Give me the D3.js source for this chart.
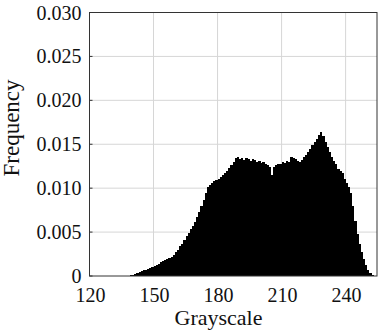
<!DOCTYPE html>
<html>
<head>
<meta charset="utf-8">
<script src="https://cdn.jsdelivr.net/npm/d3@7"></script>
<style>
    body { margin: 0; background: #fff; }
    text { font-family: "Liberation Serif", "Times New Roman", serif; fill: #111; }
</style>
</head>
<body>
<script>
// grayscale bins 120..255, one value per bin
var grayStart = 120;
var frequency = [
    0, 0, 0, 0, 0, 0, 0, 0, 0, 0,                                              // 120-129
    0, 0, 0, 0, 0, 0, 0, 0.00002, 0.00005, 0.0001,                             // 130-139
    0.00015, 0.00025, 0.00035, 0.00045, 0.00055, 0.00063, 0.0007, 0.0008, 0.00088, 0.001, // 140-149
    0.0011, 0.0013, 0.0014, 0.0016, 0.0017, 0.0018, 0.0019, 0.0021, 0.0022, 0.0024,       // 150-159
    0.0027, 0.0030, 0.0034, 0.0037, 0.0041, 0.0045, 0.0049, 0.0053, 0.0057, 0.0062,       // 160-169
    0.0067, 0.0073, 0.0080, 0.0087, 0.0094, 0.0101, 0.0104, 0.0106, 0.0108, 0.0109,       // 170-179
    0.0111, 0.0113, 0.0115, 0.0117, 0.0120, 0.0123, 0.0126, 0.0130, 0.0134, 0.0135,       // 180-189
    0.0133, 0.0134, 0.0132, 0.0134, 0.0133, 0.0131, 0.0133, 0.0132, 0.0130, 0.0131,       // 190-199
    0.0129, 0.0130, 0.0128, 0.0126, 0.0124, 0.0115, 0.0124, 0.0126, 0.0127, 0.0128,       // 200-209
    0.0130, 0.0129, 0.0131, 0.0130, 0.0135, 0.0134, 0.0133, 0.0131, 0.0130, 0.0132,       // 210-219
    0.0135, 0.0138, 0.0141, 0.0145, 0.0149, 0.0152, 0.0156, 0.0160, 0.0164, 0.0159,       // 220-229
    0.0153, 0.0147, 0.0141, 0.0136, 0.0131, 0.0127, 0.0122, 0.0120, 0.0117, 0.0111,       // 230-239
    0.0106, 0.0101, 0.0095, 0.0080, 0.0063, 0.0048, 0.0036, 0.0027, 0.0019, 0.0012,       // 240-249
    0.0007, 0.0003, 0.0001, 0, 0, 0.0045                                                  // 250-255
];
var xTicks = [120, 150, 180, 210, 240];
var yTicks = [0, 0.005, 0.010, 0.015, 0.020, 0.025, 0.030];
var yTickLabels = ["0", "0.005", "0.010", "0.015", "0.020", "0.025", "0.030"];

var width = 378, height = 336;
var plotLeft = 89.5, plotRight = 377, plotTop = 12.5, plotBottom = 276;

var svg = d3.select("body").append("svg")
    .attr("width", width)
    .attr("height", height);

// the picture is cut just after the last bin starts
var x = d3.scaleLinear().domain([120, 254.7]).range([plotLeft, plotRight]);
var y = d3.scaleLinear().domain([0, 0.030]).range([plotBottom, plotTop]);

svg.append("defs").append("clipPath")
    .attr("id", "plot-clip")
    .append("rect")
    .attr("x", plotLeft)
    .attr("y", plotTop)
    .attr("width", plotRight - plotLeft)
    .attr("height", plotBottom - plotTop);

// grid
svg.append("g")
    .selectAll("line")
    .data(yTicks.slice(1))
    .join("line")
    .attr("x1", plotLeft)
    .attr("x2", plotRight)
    .attr("y1", d => y(d))
    .attr("y2", d => y(d))
    .attr("stroke", "#d6d6d6")
    .attr("stroke-width", 1);

svg.append("g")
    .selectAll("line")
    .data(xTicks.slice(1))
    .join("line")
    .attr("x1", d => x(d))
    .attr("x2", d => x(d))
    .attr("y1", plotTop)
    .attr("y2", plotBottom)
    .attr("stroke", "#d6d6d6")
    .attr("stroke-width", 1);

// histogram bars
svg.append("g")
    .attr("clip-path", "url(#plot-clip)")
    .selectAll("rect")
    .data(frequency)
    .join("rect")
    .attr("x", (d, i) => x(grayStart + i))
    .attr("width", (d, i) => x(grayStart + i + 1) - x(grayStart + i) + 0.3)
    .attr("y", d => y(d))
    .attr("height", d => plotBottom - y(d))
    .attr("fill", "#000")
    .attr("shape-rendering", "crispEdges");

// frame
svg.append("rect")
    .attr("x", plotLeft)
    .attr("y", plotTop)
    .attr("width", plotRight - plotLeft)
    .attr("height", plotBottom - plotTop)
    .attr("fill", "none")
    .attr("stroke", "#333")
    .attr("stroke-width", 1);

// small inward ticks
svg.append("g")
    .selectAll("line")
    .data(yTicks)
    .join("line")
    .attr("x1", plotLeft)
    .attr("x2", plotLeft + 3)
    .attr("y1", d => y(d))
    .attr("y2", d => y(d))
    .attr("stroke", "#333");

// tick labels
svg.append("g")
    .selectAll("text")
    .data(yTicks)
    .join("text")
    .attr("x", 81.5)
    .attr("y", d => y(d) + 7)
    .attr("text-anchor", "end")
    .attr("font-size", 20)
    .text((d, i) => yTickLabels[i]);

svg.append("g")
    .selectAll("text")
    .data(xTicks)
    .join("text")
    .attr("x", d => x(d) + 1)
    .attr("y", 302)
    .attr("text-anchor", "middle")
    .attr("font-size", 20)
    .text(d => d);

svg.append("text")
    .attr("x", 218.5)
    .attr("y", 325)
    .attr("text-anchor", "middle")
    .attr("font-size", 22)
    .text("Grayscale");

svg.append("text")
    .attr("transform", "translate(19,128) rotate(-90)")
    .attr("text-anchor", "middle")
    .attr("font-size", 23)
    .text("Frequency");
</script>
</body>
</html>
